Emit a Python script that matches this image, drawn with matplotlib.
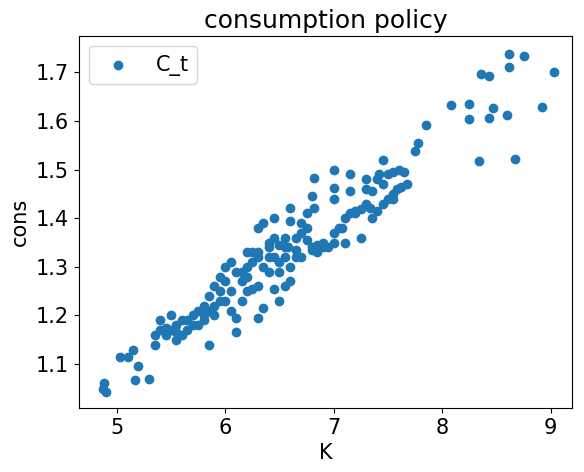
import matplotlib
matplotlib.use("Agg")
import matplotlib.pyplot as plt

# (K, cons) pairs
points = [
    (8.08, 1.633), (8.25, 1.635), (8.25, 1.605), (8.36, 1.697), (8.43, 1.693), (8.47, 1.627),
    (8.43, 1.606), (8.34, 1.518), (8.6, 1.612), (8.62, 1.712), (8.62, 1.737), (8.75, 1.734),
    (8.67, 1.522), (8.92, 1.628), (9.03, 1.700),
    (7.85, 1.592), (7.78, 1.555), (7.75, 1.538), (7.68, 1.47), (7.6, 1.5), (7.58, 1.46),
    (7.62, 1.465), (7.55, 1.44), (7.5, 1.49), (7.45, 1.52), (7.42, 1.49), (7.4, 1.48),
    (7.45, 1.47), (7.35, 1.455), (7.3, 1.46), (7.3, 1.43), (7.25, 1.418), (7.2, 1.415),
    (7.15, 1.41), (7.1, 1.40), (7.08, 1.38), (7.0, 1.37), (7.0, 1.463), (7.0, 1.5),
    (7.15, 1.49), (7.15, 1.455), (7.25, 1.36), (7.33, 1.42), (7.4, 1.415), (7.55, 1.495),
    (7.5, 1.44), (7.1, 1.348), (6.95, 1.34), (6.9, 1.34), (6.85, 1.345), (6.8, 1.335),
    (6.82, 1.482), (6.8, 1.445), (6.82, 1.42), (6.75, 1.41), (6.75, 1.38), (6.7, 1.37),
    (6.65, 1.32), (6.7, 1.32), (6.6, 1.42), (6.6, 1.395), (6.55, 1.36), (6.58, 1.34),
    (6.5, 1.345), (6.5, 1.31), (6.45, 1.40), (6.45, 1.36), (6.4, 1.35), (6.4, 1.32),
    (6.35, 1.39), (6.3, 1.38), (6.3, 1.32), (6.25, 1.31), (6.2, 1.33), (6.2, 1.30),
    (6.15, 1.29), (6.1, 1.29), (6.05, 1.31), (6.0, 1.30), (6.0, 1.27), (5.95, 1.28),
    (5.95, 1.25), (5.9, 1.26), (5.9, 1.22), (5.85, 1.24), (5.85, 1.21), (5.8, 1.22),
    (5.8, 1.2), (5.75, 1.21), (5.7, 1.2), (5.7, 1.18), (5.65, 1.19), (5.6, 1.19),
    (5.6, 1.16), (5.55, 1.18), (5.55, 1.15), (5.5, 1.2), (5.5, 1.17), (5.45, 1.16),
    (5.4, 1.19), (5.4, 1.17), (5.35, 1.16), (5.35, 1.14), (5.3, 1.07), (5.2, 1.095),
    (5.15, 1.128), (5.1, 1.115), (5.17, 1.067), (5.03, 1.115), (4.88, 1.06), (4.87, 1.048),
    (4.9, 1.043), (5.85, 1.14), (6.1, 1.165), (6.1, 1.195), (6.3, 1.195), (6.35, 1.215),
    (6.5, 1.23), (6.45, 1.255), (6.55, 1.26), (6.6, 1.27), (6.3, 1.26), (6.2, 1.25),
    (6.25, 1.255), (6.4, 1.29), (6.5, 1.29), (6.6, 1.3), (6.65, 1.36), (6.7, 1.39),
    (6.9, 1.35), (7.0, 1.35), (7.05, 1.38), (7.2, 1.41), (7.0, 1.44), (6.8, 1.34),
    (6.55, 1.34), (6.45, 1.32), (6.35, 1.30), (6.25, 1.33), (6.15, 1.27), (6.05, 1.25),
    (6.0, 1.23), (5.9, 1.2), (5.75, 1.18), (5.65, 1.17), (5.55, 1.165), (5.45, 1.175),
    (6.05, 1.21), (6.15, 1.23), (5.95, 1.23), (5.8, 1.19), (6.2, 1.28), (6.3, 1.33),
    (6.4, 1.34), (6.55, 1.32), (6.65, 1.335), (6.75, 1.355), (7.3, 1.48), (7.35, 1.4),
    (7.45, 1.43), (7.55, 1.45), (7.65, 1.495), (6.85, 1.33),
]
K = [p[0] for p in points]
cons = [p[1] for p in points]

plt.rcParams["font.size"] = 15
fig, ax = plt.subplots(figsize=(5.84, 4.72), dpi=100)
fig.subplots_adjust(left=0.135, right=0.98, top=0.924, bottom=0.136)

ax.scatter(K, cons, color="#1f77b4", s=36, label="C_t")
ax.set_xlim(4.65, 9.2)
ax.set_ylim(1.01, 1.775)
ax.set_xticks([5, 6, 7, 8, 9])
ax.set_title("consumption policy", fontsize=18)
ax.set_xlabel("K")
ax.set_ylabel("cons")
ax.legend(loc="upper left")

fig.savefig("out.png", dpi=100)
